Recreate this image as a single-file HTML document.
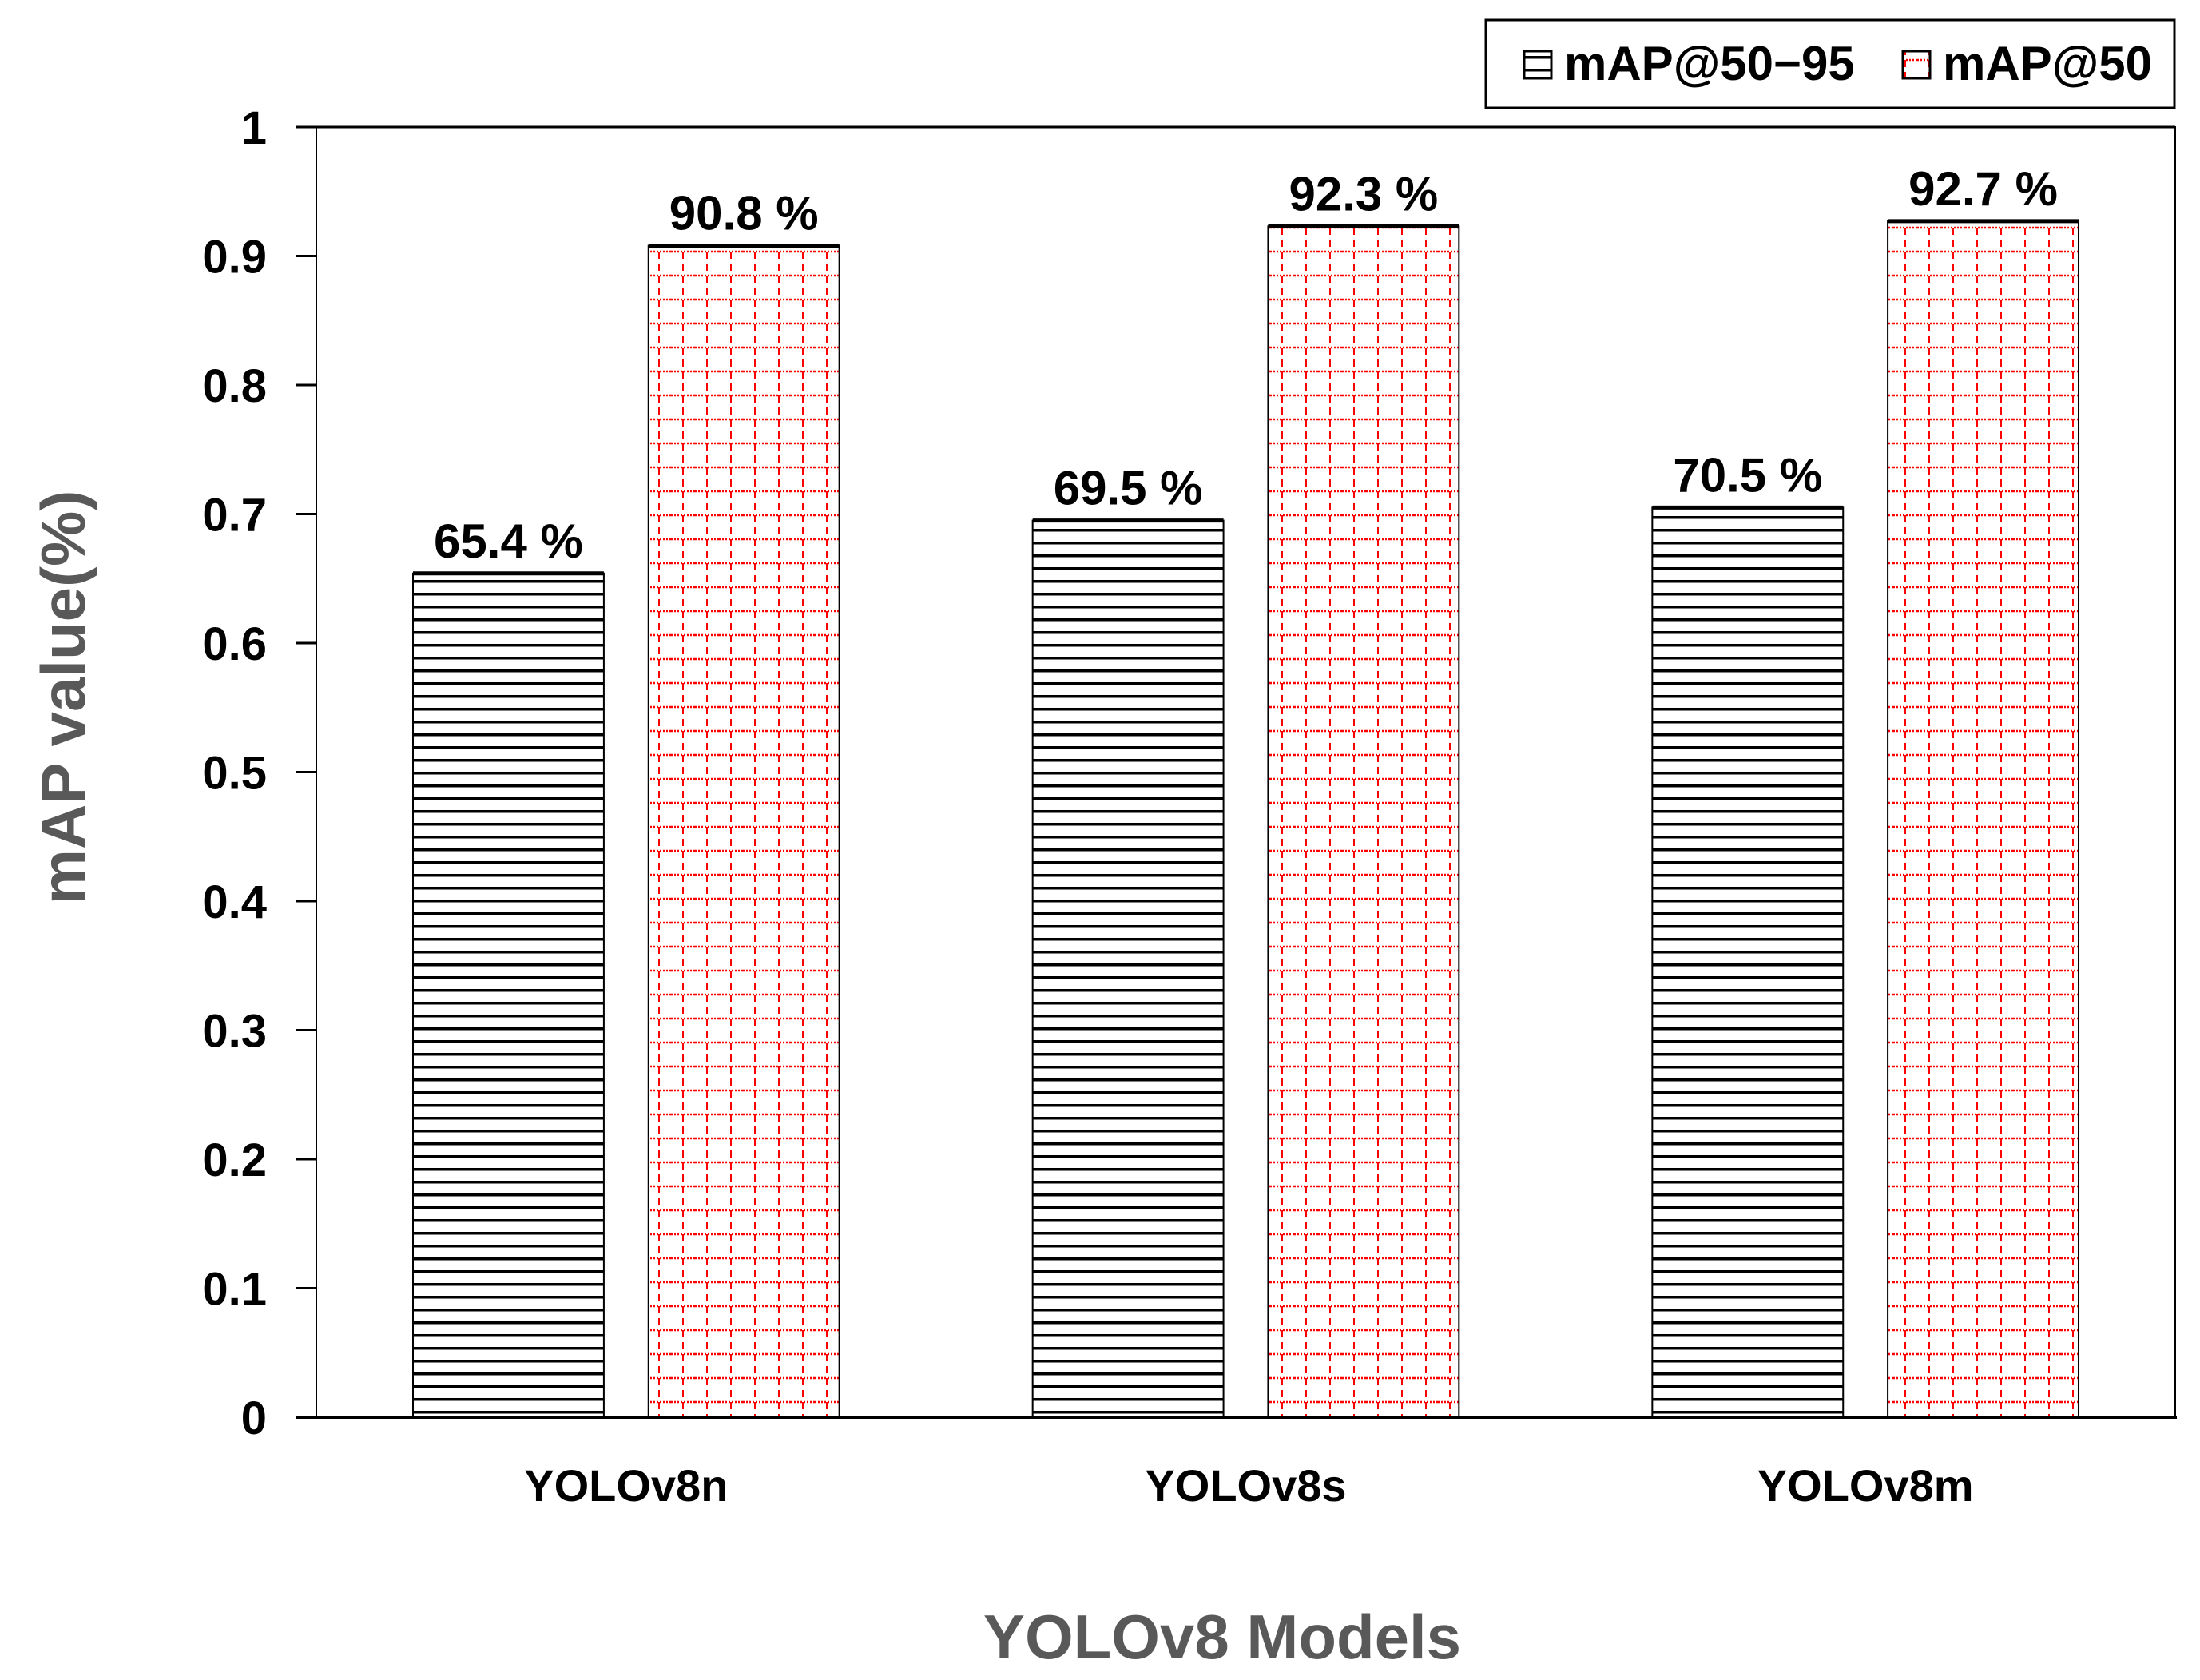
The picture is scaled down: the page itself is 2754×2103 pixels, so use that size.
<!DOCTYPE html>
<html><head><meta charset="utf-8"><style>
html,body{margin:0;padding:0;background:#fff;}
svg{display:block;font-family:"Liberation Sans","DejaVu Sans",sans-serif;font-weight:bold;}
</style></head><body>
<svg id="chart" width="2754" height="2103" viewBox="0 0 2754 2103">
<defs>
<pattern id="hatchH" patternUnits="userSpaceOnUse" width="16" height="16">
<rect width="16" height="16" fill="#fff"/>
<rect y="6" width="16" height="3.5" fill="#000"/>
</pattern>
<pattern id="gridR" patternUnits="userSpaceOnUse" width="30" height="30">
<rect width="30" height="30" fill="#fff"/>
<line x1="0" y1="15" x2="30" y2="15" stroke="#f00" stroke-width="2.5" stroke-dasharray="2 2"/>
<line x1="15" y1="0" x2="15" y2="30" stroke="#f00" stroke-width="2" stroke-dasharray="9 6"/>
</pattern>
</defs>
<g id="plot"></g>
</svg>
<script>
const categories = ["YOLOv8n","YOLOv8s","YOLOv8m"];
const map5095 = [0.654,0.695,0.705];
const map50 = [0.908,0.923,0.927];
const labels5095 = ["65.4 %","69.5 %","70.5 %"];
const labels50 = ["90.8 %","92.3 %","92.7 %"];
const yTicks = [0,0.1,0.2,0.3,0.4,0.5,0.6,0.7,0.8,0.9,1];
const yTickLabels = ["0","0.1","0.2","0.3","0.4","0.5","0.6","0.7","0.8","0.9","1"];

const L=396,R=2723,T=159,B=1774;
const NS="http://www.w3.org/2000/svg";
const g=document.getElementById('plot');
function y(v){return B-(B-T)*v;}
function xc(i){return L+(R-L)/categories.length*(i+0.5);}
const bw=(R-L)/categories.length*0.308, off=(R-L)/categories.length*0.19;
function mk(tag,attrs,parent){const e=document.createElementNS(NS,tag);for(const k in attrs)e.setAttribute(k,attrs[k]);(parent||g).appendChild(e);return e;}

let fr=mk('rect',{x:L,y:T,width:R-L,height:B-T,fill:'none',stroke:'#000','stroke-width':2});



yTicks.forEach((v,i)=>{
  let t=mk('line',{x1:L-26,x2:L,y1:y(v),y2:y(v),stroke:'#000','stroke-width':3});
  
  
  let tx=mk('text',{x:334,y:y(v)+21,'text-anchor':'end','font-size':58,fill:'#000'});
  tx.textContent=yTickLabels[i];
  
  
});

categories.forEach((c,i)=>{
  const cx=xc(i);
  let b1=mk('rect',{x:cx-off-bw/2,y:y(map5095[i]),width:bw,height:B-y(map5095[i]),fill:'url(#hatchH)',stroke:'#000','stroke-width':2});
  
  
  mk('line',{x1:cx-off-bw/2,x2:cx-off+bw/2,y1:y(map5095[i]),y2:y(map5095[i]),stroke:'#000','stroke-width':5});
  let b2=mk('rect',{x:cx+off-bw/2,y:y(map50[i]),width:bw,height:B-y(map50[i]),fill:'url(#gridR)',stroke:'#000','stroke-width':2});
  
  
  mk('line',{x1:cx+off-bw/2,x2:cx+off+bw/2,y1:y(map50[i]),y2:y(map50[i]),stroke:'#000','stroke-width':5});
  let l1=mk('text',{x:cx-off,y:y(map5095[i])-20,'text-anchor':'middle','font-size':60});
  l1.textContent=labels5095[i];
  
  
  let l2=mk('text',{x:cx+off,y:y(map50[i])-20,'text-anchor':'middle','font-size':60});
  l2.textContent=labels50[i];
  
  
  let cl=mk('text',{x:cx,y:1879,'text-anchor':'middle','font-size':56});
  cl.textContent=c;
  
  
});
mk('line',{x1:L-26,x2:R+2,y1:B,y2:B,stroke:'#000','stroke-width':4});
mk('line',{x1:L,x2:R,y1:T,y2:T,stroke:'#000','stroke-width':3});

let xt=mk('text',{x:1530,y:2076,'text-anchor':'middle','font-size':78,fill:'#595959'});
xt.textContent="YOLOv8 Models";


let yt=mk('text',{x:0,y:0,'text-anchor':'middle','font-size':78,fill:'#595959',transform:'translate(106,873) rotate(-90)'});
yt.textContent="mAP value(%)";



let lg=mk('g',{});


mk('rect',{x:1860,y:25,width:862,height:110,fill:'#fff',stroke:'#000','stroke-width':3},lg);
mk('rect',{x:1908,y:64,width:34,height:34,fill:'url(#hatchH)',stroke:'#000','stroke-width':3},lg);
let t1=mk('text',{x:1958,y:100,'font-size':60},lg);t1.textContent="mAP@50−95";


mk('rect',{x:2382,y:64,width:34,height:34,fill:'url(#gridR)',stroke:'#000','stroke-width':3},lg);
let t2=mk('text',{x:2432,y:100,'font-size':60},lg);t2.textContent="mAP@50";


</script>
</body></html>
